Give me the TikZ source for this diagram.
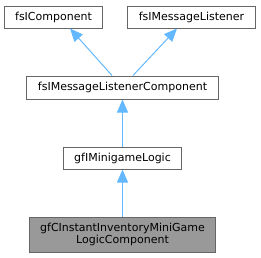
\documentclass[tikz,border=0pt]{standalone}
\usepackage{fontspec}
\setmainfont{DejaVu Sans}
\usepackage{tikz}
\usetikzlibrary{arrows.meta,positioning}
\definecolor{DoxEdge}{HTML}{63B8FF}
\definecolor{DoxLine}{HTML}{666666}
\definecolor{DoxHi}{HTML}{999999}
\tikzset{
  cls/.style={draw=DoxLine, fill=white, line width=1pt, align=center, inner xsep=11pt, inner ysep=0pt, minimum height=22pt, font=\fontsize{11}{12}\selectfont},
  clshi/.style={cls, fill=DoxHi, minimum height=35pt},
  inh/.style={{Triangle[length=13pt,width=11pt]}-, DoxEdge, line width=1pt}
}
\begin{document}
\begin{tikzpicture}[x=1pt,y=-1pt]
\useasboundingbox (0,0) rectangle (261,257);
\node[cls] (comp) at (53.5,17) {fsIComponent};
\node[cls] (lst) at (191.5,17) {fsIMessageListener};
\node[cls, minimum height=23pt] (mlc) at (122.5,87.5) {fsIMessageListenerComponent};
\node[cls] (logic) at (122.5,158) {gfIMinigameLogic};
\node[clshi] (inst) at (122.5,234.5) {gfCInstantInventoryMiniGame\\LogicComponent};
\draw[inh] ([xshift=16.5pt]comp.south) -- ([xshift=-10.5pt]mlc.north);
\draw[inh] ([xshift=-14.5pt]lst.south) -- ([xshift=10.5pt]mlc.north);
\draw[inh] (mlc) -- (logic);
\draw[inh] (logic) -- (inst);
\end{tikzpicture}
\end{document}
